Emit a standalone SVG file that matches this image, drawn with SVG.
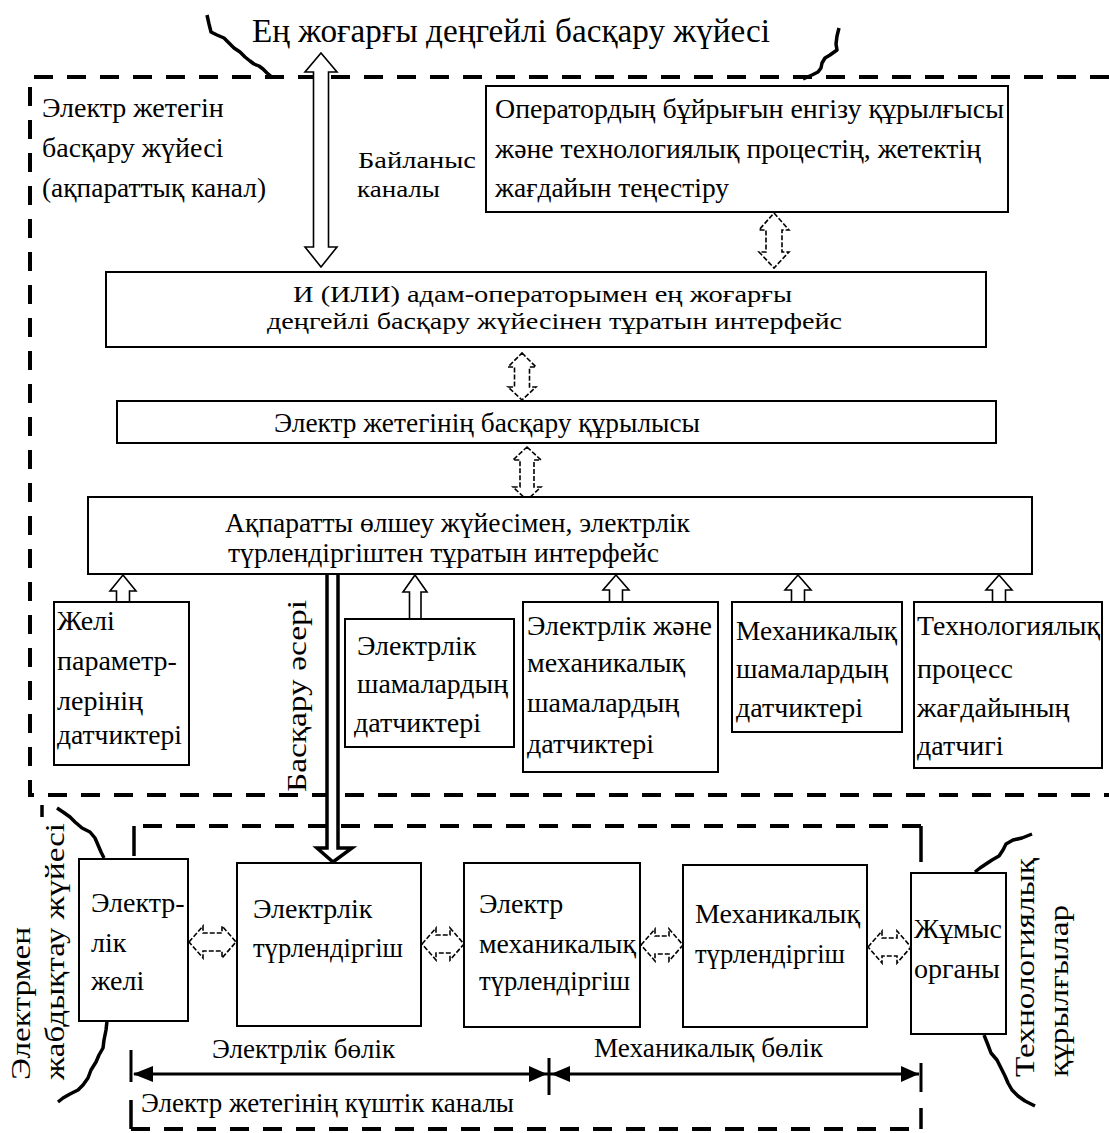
<svg xmlns="http://www.w3.org/2000/svg" width="1109" height="1133" viewBox="0 0 1109 1133">
<style>
.t{font-family:"Liberation Serif","Times New Roman",serif;font-size:28px;fill:#000}
.ts{font-family:"Liberation Serif","Times New Roman",serif;font-size:24px;fill:#000}
.tb{font-family:"Liberation Serif","Times New Roman",serif;font-size:34px;fill:#000}
.box{fill:#fff;stroke:#000;stroke-width:2}
.dash{fill:none;stroke:#000;stroke-width:4;stroke-dasharray:19 14}
.solid{fill:none;stroke:#000;stroke-width:3.5}
.ha{fill:#fff;stroke:#000;stroke-width:1.6}
.da{fill:#fff;stroke:#000;stroke-width:1.6;stroke-dasharray:5 2}
.sq{fill:none;stroke:#000;stroke-width:3.5;stroke-linejoin:round}
.dim{stroke:#000;stroke-width:3;fill:none}
.hd{fill:#000}
</style>
<rect width="1109" height="1133" fill="#fff"/>

<g id="boundaries">
  <path class="dash" d="M1109,77 H30 V795 H1109"/>
  <path class="dash" d="M921,826 H134"/>
  <path class="solid" d="M134,826 V856"/>
  <path class="solid" d="M921,826 V862"/>
  <path class="solid" d="M42,805 V817"/>
  <path class="solid" d="M131,1100 V1129"/>
  <path class="dash" d="M131,1129 H921"/>
  <path class="solid" d="M921,1108 V1129"/>
  <polyline class="sq" points="207,15 209,24 211,32 217,35 224,38 229,43 234,48 240,52 245,57 250,61 254,64 259,66 263,69 267,73 273,78"/>
  <polyline class="sq" points="839,28 837,36 836,44 837,50 830,55 825,58 822,63 821,68 818,72 812,75 803,79"/>
  <polyline class="sq" points="57,808 63,812 70,817 75,822 82,828 90,832 95,838 98,845 101,852 104,858"/>
  <polyline class="sq" points="107,1021 106,1030 104,1040 103,1048 99,1055 96,1062 91,1070 88,1078 83,1085 78,1090 70,1094 63,1098 58,1102"/>
  <polyline class="sq" points="1032,834 1022,838 1013,840 1006,844 1003,850 999,856 992,860 986,864 980,868 975,872"/>
  <polyline class="sq" points="984,1035 988,1045 991,1053 997,1060 1001,1068 1005,1076 1008,1083 1012,1090 1018,1096 1025,1101 1035,1106"/>
</g>

<g id="labels">
  <text class="tb" x="252" y="42" textLength="518" lengthAdjust="spacingAndGlyphs">Ең жоғарғы деңгейлі басқару жүйесі</text>
  <text class="t" x="42" y="117">Электр жетегін</text>
  <text class="t" x="42" y="157">басқару жүйесі</text>
  <text class="t" x="42" y="197" textLength="224" lengthAdjust="spacingAndGlyphs">(ақпараттық канал)</text>
  <text class="ts" x="358" y="168" textLength="118" lengthAdjust="spacingAndGlyphs">Байланыс</text>
  <text class="ts" x="357" y="197" textLength="83" lengthAdjust="spacingAndGlyphs">каналы</text>
  <text class="t" transform="translate(306,792) rotate(-90)" textLength="192" lengthAdjust="spacingAndGlyphs">Басқару әсері</text>
  <text class="t" transform="translate(30,1080) rotate(-90)" textLength="153" lengthAdjust="spacingAndGlyphs">Электрмен</text>
  <text class="t" transform="translate(64,1080) rotate(-90)" textLength="257" lengthAdjust="spacingAndGlyphs">жабдықтау жүйесі</text>
  <text class="t" transform="translate(1034,1077) rotate(-90)" textLength="219" lengthAdjust="spacingAndGlyphs">Технологиялық</text>
  <text class="t" transform="translate(1068,1077) rotate(-90)" textLength="172" lengthAdjust="spacingAndGlyphs">құрылғылар</text>
  <text class="t" x="212" y="1058" textLength="183" lengthAdjust="spacingAndGlyphs">Электрлік бөлік</text>
  <text class="t" x="594" y="1057" textLength="229" lengthAdjust="spacingAndGlyphs">Механикалық бөлік</text>
  <text class="t" x="141" y="1112" textLength="373" lengthAdjust="spacingAndGlyphs">Электр жетегінің күштік каналы</text>
</g>

<g id="connectors">
  <path class="ha" d="M321,53 L337,72 L328.5,72 L328.5,247 L337,247 L321,267 L305,247 L313.5,247 L313.5,72 L305,72 Z"/>
  <path class="da" d="M774,213 L789,230 L782,230 L782,252 L789,252 L774,268 L759,252 L766,252 L766,230 L759,230 Z"/>
  <path class="da" d="M522,353 L536,367 L529.5,367 L529.5,387 L536,387 L522,400 L508,387 L514.5,387 L514.5,367 L508,367 Z"/>
  <path class="da" d="M527,447 L541,460 L534,460 L534,487 L541,487 L527,500 L513,487 L520,487 L520,460 L513,460 Z"/>
  <path class="ha" d="M123,575 L136,591 L129.5,591 L129.5,602 L116.5,602 L116.5,591 L110,591 Z"/>
  <path class="ha" d="M415,575 L427,592 L421,592 L421,619 L409.5,619 L409.5,592 L403,592 Z"/>
  <path class="ha" d="M616,575 L629,590 L622.5,590 L622.5,602 L609.5,602 L609.5,590 L603,590 Z"/>
  <path class="ha" d="M798,575 L811,590 L804.5,590 L804.5,602 L791.5,602 L791.5,590 L785,590 Z"/>
  <path class="ha" d="M999,575 L1012,590 L1005.5,590 L1005.5,602 L992.5,602 L992.5,590 L986,590 Z"/>
  <rect x="327" y="575" width="11" height="273" fill="#fff"/>
  <path d="M327,575 V848 H317 L333,862 L352,848 H338 V575" fill="#fff" stroke="#000" stroke-width="3.5" stroke-linejoin="miter"/>
  <path class="da" d="M189,942 L203,926 L203,933 L222,933 L222,926 L236,942 L222,958 L222,951 L203,951 L203,958 Z"/>
  <path class="da" d="M422,944 L436,928 L436,935 L450,935 L450,928 L464,944 L450,960 L450,953 L436,953 L436,960 Z"/>
  <path class="da" d="M641,945 L655,929 L655,936 L669,936 L669,929 L683,945 L669,961 L669,954 L655,954 L655,961 Z"/>
  <path class="da" d="M868,947 L882,931 L882,938 L897,938 L897,931 L911,947 L897,963 L897,956 L882,956 L882,963 Z"/>
  <line class="dim" x1="131" y1="1050" x2="131" y2="1082"/>
  <line class="dim" x1="549" y1="1058" x2="549" y2="1095"/>
  <line class="dim" x1="921" y1="1063" x2="921" y2="1092"/>
  <line class="dim" x1="134" y1="1074" x2="548" y2="1074"/>
  <line class="dim" x1="550" y1="1074" x2="919" y2="1074"/>
  <polygon class="hd" points="133,1074 153,1066 153,1082"/>
  <polygon class="hd" points="547,1074 529,1066 529,1082"/>
  <polygon class="hd" points="551,1074 570,1066 570,1082"/>
  <polygon class="hd" points="919,1074 901,1066 901,1082"/>
</g>

<g id="n-operator">
  <rect class="box" x="486" y="86" width="522" height="126"/>
  <text class="t" x="495" y="118" textLength="509" lengthAdjust="spacingAndGlyphs">Оператордың бұйрығын енгізу құрылғысы</text>
  <text class="t" x="495" y="158" textLength="486" lengthAdjust="spacingAndGlyphs">және технологиялық процестің, жетектің</text>
  <text class="t" x="495" y="197" textLength="234" lengthAdjust="spacingAndGlyphs">жағдайын теңестіру</text>
</g>

<g id="n-interface-top">
  <rect class="box" x="106" y="272" width="880" height="75"/>
  <text class="ts" x="293" y="302" textLength="499" lengthAdjust="spacingAndGlyphs">И (ИЛИ) адам-операторымен  ең жоғарғы</text>
  <text class="ts" x="267" y="329" textLength="575" lengthAdjust="spacingAndGlyphs">деңгейлі  басқару жүйесінен тұратын интерфейс</text>
</g>

<g id="n-control-device">
  <rect class="box" x="117" y="401" width="879" height="42"/>
  <text class="t" x="274" y="432" textLength="426" lengthAdjust="spacingAndGlyphs">Электр жетегінің басқару құрылысы</text>
</g>

<g id="n-interface-measure">
  <rect class="box" x="88" y="497" width="944" height="77"/>
  <text class="t" x="225" y="532" textLength="465" lengthAdjust="spacingAndGlyphs">Ақпаратты өлшеу жүйесімен, электрлік</text>
  <text class="t" x="228" y="562" textLength="431" lengthAdjust="spacingAndGlyphs">түрлендіргіштен тұратын интерфейс</text>
</g>

<g id="n-grid-sensors">
  <rect class="box" x="54" y="602" width="135" height="163"/>
  <text class="t" x="57" y="630">Желі</text>
  <text class="t" x="57" y="670">параметр-</text>
  <text class="t" x="57" y="710">лерінің</text>
  <text class="t" x="57" y="744" textLength="125" lengthAdjust="spacingAndGlyphs">датчиктері</text>
</g>

<g id="n-electric-sensors">
  <rect class="box" x="345" y="619" width="169" height="128"/>
  <text class="t" x="357" y="655">Электрлік</text>
  <text class="t" x="357" y="693" textLength="151" lengthAdjust="spacingAndGlyphs">шамалардың</text>
  <text class="t" x="354" y="732">датчиктері</text>
</g>

<g id="n-elmech-sensors">
  <rect class="box" x="523" y="602" width="195" height="170"/>
  <text class="t" x="527" y="635" textLength="185" lengthAdjust="spacingAndGlyphs">Электрлік және</text>
  <text class="t" x="527" y="672">механикалық</text>
  <text class="t" x="527" y="712">шамалардың</text>
  <text class="t" x="527" y="753">датчиктері</text>
</g>

<g id="n-mech-sensors">
  <rect class="box" x="732" y="602" width="170" height="130"/>
  <text class="t" x="736" y="640" textLength="161" lengthAdjust="spacingAndGlyphs">Механикалық</text>
  <text class="t" x="736" y="678">шамалардың</text>
  <text class="t" x="736" y="717">датчиктері</text>
</g>

<g id="n-tech-sensor">
  <rect class="box" x="914" y="602" width="188" height="166"/>
  <text class="t" x="917" y="635" textLength="183" lengthAdjust="spacingAndGlyphs">Технологиялық</text>
  <text class="t" x="917" y="678">процесс</text>
  <text class="t" x="917" y="717">жағдайының</text>
  <text class="t" x="917" y="755">датчигі</text>
</g>

<g id="n-grid">
  <rect class="box" x="79" y="859" width="109" height="162"/>
  <text class="t" x="91" y="912">Электр-</text>
  <text class="t" x="91" y="952">лік</text>
  <text class="t" x="91" y="990">желі</text>
</g>

<g id="n-el-converter">
  <rect class="box" x="237" y="863" width="184" height="163"/>
  <text class="t" x="253" y="918">Электрлік</text>
  <text class="t" x="253" y="957" textLength="150" lengthAdjust="spacingAndGlyphs">түрлендіргіш</text>
</g>

<g id="n-elmech-converter">
  <rect class="box" x="464" y="863" width="176" height="164"/>
  <text class="t" x="479" y="913">Электр</text>
  <text class="t" x="479" y="953" textLength="157" lengthAdjust="spacingAndGlyphs">механикалық</text>
  <text class="t" x="479" y="990" textLength="151" lengthAdjust="spacingAndGlyphs">түрлендіргіш</text>
</g>

<g id="n-mech-converter">
  <rect class="box" x="683" y="865" width="184" height="162"/>
  <text class="t" x="695" y="923" textLength="165" lengthAdjust="spacingAndGlyphs">Механикалық</text>
  <text class="t" x="695" y="963" textLength="150" lengthAdjust="spacingAndGlyphs">түрлендіргіш</text>
</g>

<g id="n-work-organ">
  <rect class="box" x="911" y="873" width="95" height="161"/>
  <text class="t" x="914" y="938" textLength="88" lengthAdjust="spacingAndGlyphs">Жұмыс</text>
  <text class="t" x="914" y="978" textLength="86" lengthAdjust="spacingAndGlyphs">органы</text>
</g>
</svg>
